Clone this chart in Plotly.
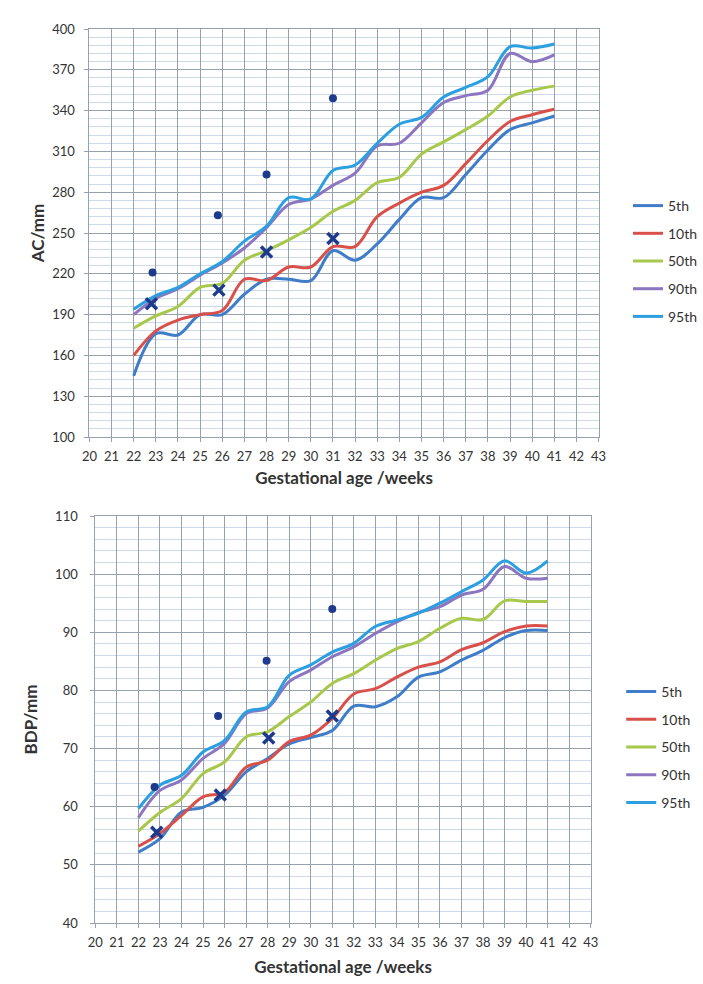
import plotly.graph_objects as go

weeks = list(range(22, 42))
pct_names = ["5th", "10th", "50th", "90th", "95th"]
colors = ["#3f7dc8", "#d9504a", "#a8c84c", "#8b76bf", "#2c9fe0"]

# AC (mm)
ac_5 = [145, 176, 175, 190, 190, 205, 216, 216, 215, 237, 230, 242, 260, 276, 276, 293, 311, 326, 331, 336]
ac_10 = [160, 178, 186, 190, 193, 216, 215, 225, 225, 240, 240, 262, 272, 280, 285, 301, 318, 332, 337, 341]
ac_50 = [180, 189, 196, 210, 213, 230, 237, 245, 254, 266, 274, 287, 291, 308, 317, 326, 336, 350, 355, 358]
ac_90 = [190, 202, 209, 219, 228, 239, 254, 271, 275, 285, 294, 314, 316, 331, 346, 351, 355, 382, 376, 381]
ac_95 = [194, 204, 210, 220, 229, 244, 255, 276, 275, 296, 300, 316, 330, 335, 350, 357, 365, 387, 386, 389]

# BDP (mm)
bdp_5 = [52.2, 54.5, 59.1, 59.9, 62.0, 66.0, 68.3, 70.8, 71.9, 73.1, 77.3, 77.2, 78.9, 82.3, 83.2, 85.2, 86.9, 89.1, 90.3, 90.3]
bdp_10 = [53.2, 55.4, 58.5, 61.7, 62.5, 66.8, 68.0, 71.2, 72.3, 75.2, 79.4, 80.3, 82.3, 84.0, 84.9, 87.0, 88.2, 90.1, 91.1, 91.1]
bdp_50 = [55.8, 59.0, 61.4, 65.7, 67.7, 72.0, 72.9, 75.5, 78.0, 81.2, 82.9, 85.2, 87.2, 88.4, 90.7, 92.4, 92.2, 95.4, 95.3, 95.3]
bdp_90 = [58.1, 62.8, 64.6, 68.3, 70.9, 76.0, 77.0, 81.5, 83.5, 85.8, 87.5, 89.8, 91.8, 93.4, 94.4, 96.4, 97.4, 101.3, 99.3, 99.3]
bdp_95 = [59.7, 63.7, 65.4, 69.4, 71.4, 76.3, 77.2, 82.6, 84.4, 86.6, 88.1, 91.0, 92.1, 93.3, 95.0, 97.0, 99.0, 102.3, 100.2, 102.3]

# patient measurements
ac_dot_x = [22.85, 25.8, 28.0, 31.0]
ac_dot_y = [221, 263, 293, 349]
ac_cross_x = [22.8, 25.85, 28.0, 31.0]
ac_cross_y = [198, 208, 236, 246]

bdp_dot_x = [22.75, 25.7, 27.95, 31.0]
bdp_dot_y = [63.4, 75.6, 85.1, 94.0]
bdp_cross_x = [22.85, 25.8, 28.05, 31.0]
bdp_cross_y = [55.6, 62.0, 71.8, 75.6]

x_ticks = list(range(20, 44))

ac_series = [ac_5, ac_10, ac_50, ac_90, ac_95]
bdp_series = [bdp_5, bdp_10, bdp_50, bdp_90, bdp_95]

marker_col = "#1d3a8c"
font_fam = "Lato, 'Open Sans', sans-serif"

fig = go.Figure()

for name, col, ys in zip(pct_names, colors, ac_series):
    fig.add_trace(go.Scatter(x=weeks, y=ys, mode="lines", name=name,
                             line=dict(color=col, width=3, shape="spline", smoothing=1.0),
                             xaxis="x", yaxis="y", legend="legend", legendgroup="a" + name))
for name, col, ys in zip(pct_names, colors, bdp_series):
    fig.add_trace(go.Scatter(x=weeks, y=ys, mode="lines", name=name,
                             line=dict(color=col, width=3, shape="spline", smoothing=1.0),
                             xaxis="x2", yaxis="y2", legend="legend2", legendgroup="b" + name))

fig.add_trace(go.Scatter(x=ac_dot_x, y=ac_dot_y, mode="markers", showlegend=False,
                         marker=dict(symbol="circle", size=8, color=marker_col), xaxis="x", yaxis="y"))
fig.add_trace(go.Scatter(x=ac_cross_x, y=ac_cross_y, mode="markers", showlegend=False,
                         marker=dict(symbol="x-thin", size=11, line=dict(color=marker_col, width=3.5)),
                         xaxis="x", yaxis="y"))
fig.add_trace(go.Scatter(x=bdp_dot_x, y=bdp_dot_y, mode="markers", showlegend=False,
                         marker=dict(symbol="circle", size=8, color=marker_col), xaxis="x2", yaxis="y2"))
fig.add_trace(go.Scatter(x=bdp_cross_x, y=bdp_cross_y, mode="markers", showlegend=False,
                         marker=dict(symbol="x-thin", size=11, line=dict(color=marker_col, width=3.5)),
                         xaxis="x2", yaxis="y2"))

W, H = 703, 984
major = "#96a1ae"
minor_col = "#cddaea"
tick_font = dict(family=font_fam, size=13, color="#333333")
title_font = dict(family=font_fam, size=17, color="#333333")

def xaxis_cfg(domain, anchor, tstand):
    return dict(domain=domain, anchor=anchor, range=[20, 43], tickmode="array",
                tickvals=x_ticks, ticktext=[str(t) for t in x_ticks],
                showgrid=True, gridcolor=major, gridwidth=1, zeroline=False,
                showline=True, linecolor=major, ticks="outside", ticklen=4, tickcolor=major,
                tickfont=tick_font, ticklabelstandoff=3,
                title=dict(text="<b>Gestational age /weeks</b>", font=title_font, standoff=tstand),
                automargin=False, mirror=True)

def yaxis_cfg(domain, anchor, rng, dt, mdt, title, standoff, tstand):
    return dict(domain=domain, anchor=anchor, range=rng, dtick=dt, tick0=rng[0],
                showgrid=True, gridcolor=major, gridwidth=1, zeroline=False,
                showline=True, linecolor=major, ticks="outside", ticklen=4, tickcolor=major,
                tickfont=tick_font, ticklabelstandoff=standoff,
                minor=dict(dtick=mdt, tick0=rng[0], showgrid=True, gridcolor=minor_col, gridwidth=1),
                title=dict(text="<b>" + title + "</b>", font=title_font, standoff=tstand),
                automargin=False, mirror=True)

legend_font = dict(family=font_fam, size=14, color="#333333")

fig.update_layout(
    width=W, height=H,
    margin=dict(l=0, r=0, t=0, b=0),
    paper_bgcolor="white", plot_bgcolor="white",
    showlegend=True,
    xaxis=xaxis_cfg([91 / W, 609 / W], "y", 9),
    yaxis=yaxis_cfg([1 - 437 / H, 1 - 29 / H], "x", [100, 400], 30, 6, "AC/mm", 7, 3),
    xaxis2=xaxis_cfg([97 / W, 601 / W], "y2", 12),
    yaxis2=yaxis_cfg([1 - 923 / H, 1 - 516 / H], "x2", [40, 110], 10, 2, "BDP/mm", 10, 13),
    legend=dict(x=639 / W, y=1 - 190 / H, xanchor="left", yanchor="top",
                font=legend_font,
                tracegroupgap=6.5, traceorder="grouped", itemwidth=30, bgcolor="rgba(0,0,0,0)"),
    legend2=dict(x=632 / W, y=1 - 676 / H, xanchor="left", yanchor="top",
                 font=legend_font,
                 tracegroupgap=6.5, traceorder="grouped", itemwidth=30, bgcolor="rgba(0,0,0,0)"),
)

fig.write_html("out.html", config={"displayModeBar": False},
               post_script="document.body.style.margin='0';document.body.style.overflow='hidden';")
